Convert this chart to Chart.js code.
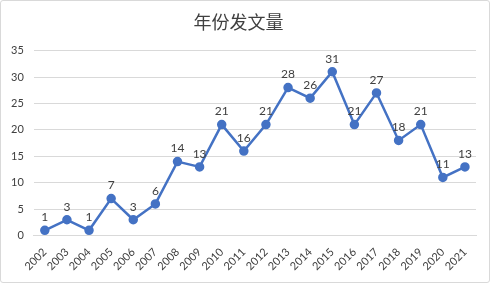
<!DOCTYPE html>
<html>
<head>
<meta charset="utf-8">
<script src="https://cdn.jsdelivr.net/npm/chart.js@4"></script>
<style>
  html, body { margin: 0; padding: 0; background: #fff; }
  #box { width: 488px; height: 281px; border: 1px solid #d9d9d9; border-radius: 3px; position: relative; }
</style>
</head>
<body>
<div id="box"><canvas id="myChart" width="488" height="281"></canvas></div>
<script>
// 年份与发文量
var years = ['2002', '2003', '2004', '2005', '2006', '2007', '2008', '2009', '2010', '2011',
             '2012', '2013', '2014', '2015', '2016', '2017', '2018', '2019', '2020', '2021'];
var counts = [1, 3, 1, 7, 3, 6, 14, 13, 21, 16, 21, 28, 26, 31, 21, 27, 18, 21, 11, 13];
var yTicks = [0, 5, 10, 15, 20, 25, 30, 35];

// 数据标签（在点上方写数值）
var pointLabels = {
  id: 'pointLabels',
  afterDatasetsDraw: function (chart) {
    var ctx = chart.ctx;
    var meta = chart.getDatasetMeta(0);
    ctx.save();
    ctx.font = '12px Lato, "Liberation Sans", sans-serif';
    ctx.fillStyle = '#404040';
    ctx.textAlign = 'center';
    ctx.textBaseline = 'bottom';
    meta.data.forEach(function (pt, i) {
      ctx.fillText(String(counts[i]), pt.x, pt.y - 7);
    });
    ctx.restore();
  }
};

var ctx = document.getElementById('myChart').getContext('2d');
var chart = new Chart(ctx, {
  type: 'line',
  data: {
    labels: years,
    datasets: [{
      label: '发文量',
      data: counts,
      borderColor: '#4472C4',
      backgroundColor: '#4472C4',
      borderWidth: 2.5,
      pointRadius: 3.5,
      pointBackgroundColor: '#4472C4',
      pointBorderColor: '#4472C4',
      tension: 0,
      fill: false
    }]
  },
  options: {
    responsive: false,
    animation: false,
    layout: { padding: { left: 0, right: 13, top: 6, bottom: 7 } },
    plugins: {
      legend: { display: false },
      tooltip: { enabled: false },
      title: {
        display: true,
        text: '年份发文量',
        color: '#404040',
        font: { family: '"Noto Sans CJK SC", sans-serif', size: 18, weight: 'normal' },
        padding: { top: 4, bottom: 18 }
      }
    },
    scales: {
      x: {
        offset: true,
        grid: { display: false },
        border: { color: '#d9d9d9' },
        ticks: {
          color: '#404040',
          font: { family: 'Lato, "Liberation Sans", sans-serif', size: 11 },
          maxRotation: 45,
          minRotation: 45,
          autoSkip: false,
          padding: 2
        }
      },
      y: {
        min: 0,
        max: 35,
        afterBuildTicks: function (axis) {
          axis.ticks = yTicks.map(function (v) { return { value: v }; });
        },
        grid: { color: '#d9d9d9', drawTicks: false },
        border: { display: false },
        ticks: {
          color: '#404040',
          font: { family: 'Lato, "Liberation Sans", sans-serif', size: 11 },
          padding: 10
        }
      }
    }
  },
  plugins: [pointLabels]
});
</script>
</body>
</html>
